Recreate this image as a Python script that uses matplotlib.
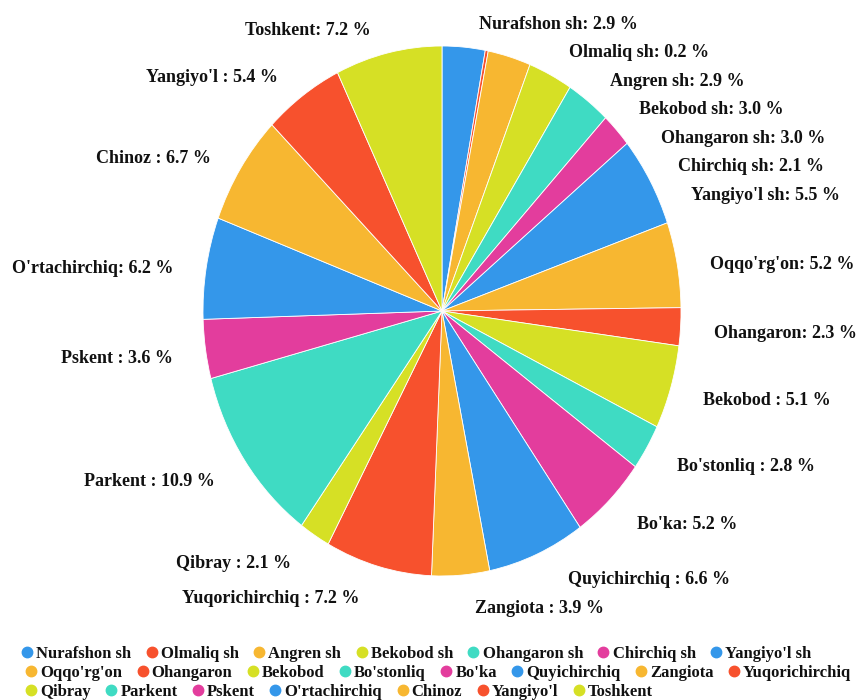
import numpy as np
import matplotlib.pyplot as plt
from matplotlib.lines import Line2D

# district shares (%), clockwise from 12 o'clock
districts = ["Nurafshon sh", "Olmaliq sh", "Angren sh", "Bekobod sh", "Ohangaron sh",
             "Chirchiq sh", "Yangiyo'l sh", "Oqqo'rg'on", "Ohangaron", "Bekobod",
             "Bo'stonliq", "Bo'ka", "Quyichirchiq", "Zangiota", "Yuqorichirchiq",
             "Qibray", "Parkent", "Pskent", "O'rtachirchiq", "Chinoz", "Yangiyo'l",
             "Toshkent"]
shares = [2.9, 0.2, 2.9, 3.0, 3.0, 2.1, 5.5, 5.2, 2.3, 5.1, 2.8, 5.2, 6.6, 3.9,
          7.2, 2.1, 10.9, 3.6, 6.2, 6.7, 5.4, 7.2]
# some source names carry a trailing space before the colon
label_names = ["Nurafshon sh", "Olmaliq sh", "Angren sh", "Bekobod sh", "Ohangaron sh",
               "Chirchiq sh", "Yangiyo'l sh", "Oqqo'rg'on", "Ohangaron", "Bekobod ",
               "Bo'stonliq ", "Bo'ka", "Quyichirchiq ", "Zangiota ", "Yuqorichirchiq ",
               "Qibray ", "Parkent ", "Pskent ", "O'rtachirchiq", "Chinoz ", "Yangiyo'l ",
               "Toshkent"]

BLUE, RED, ORANGE, LIME, TEAL, PINK = "#3497ea", "#f7512d", "#f7b731", "#d6e025", "#3fdbc3", "#e33d9d"
colors = [BLUE, RED, ORANGE, LIME, TEAL, PINK,
          BLUE, ORANGE, RED, LIME, TEAL, PINK,
          BLUE, ORANGE, RED, LIME, TEAL, PINK,
          BLUE, ORANGE, RED, LIME]

W, H = 861, 700
cx, cy = 442, 311          # pie centre, px
rx, ry = 239, 265          # pie radii, px
lrx, lry = 259, 293        # label ellipse, px
pad = 13                   # horizontal gap added to the label ellipse
gap = 28.5                 # min vertical label spacing, px
lift = 5                   # text centre sits a little below the anchor

fig = plt.figure(figsize=(W / 100, H / 100), dpi=100)
ax = fig.add_axes([0, 0, 1, 1])
ax.pie(shares, colors=colors, startangle=90, counterclock=False,
       wedgeprops=dict(edgecolor="white", linewidth=0.6))
ax.set_aspect("auto")
ax.set_xlim(-cx / rx, (W - cx) / rx)
ax.set_ylim(-(H - cy) / ry, cy / ry)
ax.axis("off")

# label placement: start at slice mid-angle, then spread each side apart
frac = np.array(shares) / sum(shares)
mids = np.radians(90 - 360 * (np.cumsum(frac) - frac / 2))
ys = cy - lry * np.sin(mids)
right = np.cos(mids) >= 0

for side in (True, False):
    idx = [i for i in range(len(shares)) if right[i] == side]
    idx.sort(key=lambda i: ys[i])
    top = [i for i in idx if ys[i] < cy]
    bottom = [i for i in idx if ys[i] >= cy][::-1]
    # upper half pushes downwards, lower half pushes upwards
    for a, b in zip(top, top[1:]):
        if ys[b] - ys[a] < gap:
            ys[b] = ys[a] + gap
    for a, b in zip(bottom, bottom[1:]):
        if ys[a] - ys[b] < gap:
            ys[b] = ys[a] - gap

font = dict(family="Liberation Serif", weight="bold", size=13)
for i, (name, v) in enumerate(zip(label_names, shares)):
    t = np.clip((ys[i] - cy) / lry, -1, 1)
    dx = pad + lrx * np.sqrt(1 - t ** 2)
    px = cx + dx if right[i] else cx - dx
    ax.text((px - cx) / rx, (cy - ys[i] - lift) / ry, f"{name}: {v} %",
            ha="left" if right[i] else "right", va="center", color="#111111", **font)

# legend laid out as three flowing rows
legend_font = dict(family="Liberation Serif", weight="bold", size=12)
rows = [(0, 7, 22, 654), (7, 15, 26, 673), (15, 22, 26, 692)]
for start, stop, xpx, ypx in rows:
    handles = [Line2D([], [], marker="o", ls="", ms=7.5, color=colors[i],
                      label=districts[i]) for i in range(start, stop)]
    fig.legend(handles=handles, ncol=len(handles), loc="center left",
               bbox_to_anchor=(xpx / W, 1 - ypx / H), frameon=False,
               borderpad=0, borderaxespad=0, handlelength=0.6, handletextpad=0.25,
               columnspacing=0.92, prop=legend_font, labelcolor="#111111")

fig.savefig("out.png", dpi=100)
